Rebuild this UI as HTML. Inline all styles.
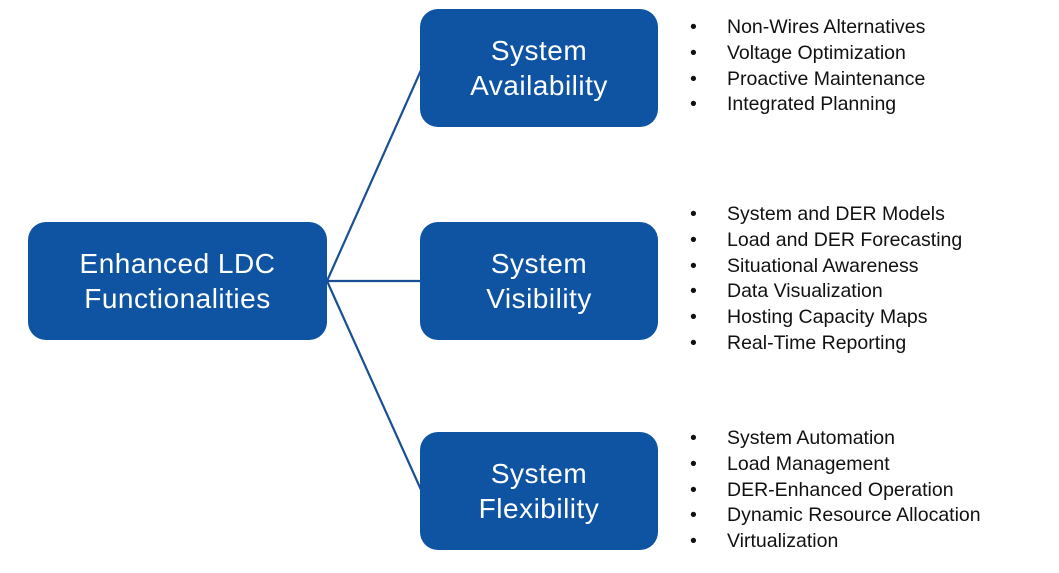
<!DOCTYPE html>
<html><head><meta charset="utf-8"><style>
body{margin:0;width:1059px;height:573px;background:#fff;position:relative;overflow:hidden;font-family:"Liberation Sans",sans-serif}
.b{position:absolute;background:#0e54a2;border-radius:18px;color:#fff;display:flex;align-items:center;justify-content:center;text-align:center;font-size:28px;line-height:35px;letter-spacing:0.5px}
.l{position:absolute;left:690px;font-size:19.5px;color:#111;line-height:25.8px;margin:0;padding:0;list-style:none}
.l li{position:relative;padding-left:37px}
.l li:before{content:"•";position:absolute;left:0}
</style></head><body>
<svg width="1059" height="573" style="position:absolute;left:0;top:0">
<g stroke="#1a4f94" stroke-width="2.2" fill="none">
<line x1="327" y1="281" x2="422" y2="68"/>
<line x1="327" y1="281" x2="422" y2="281"/>
<line x1="327" y1="281" x2="422" y2="492"/>
</g></svg>
<div class="b" style="left:28px;top:222px;width:299px;height:118px">Enhanced LDC<br>Functionalities</div>
<div class="b" style="left:420px;top:9px;width:238px;height:118px">System<br>Availability</div>
<div class="b" style="left:420px;top:222px;width:238px;height:118px">System<br>Visibility</div>
<div class="b" style="left:420px;top:432px;width:238px;height:118px">System<br>Flexibility</div>
<ul class="l" style="top:15px"><li>Non-Wires Alternatives</li><li>Voltage Optimization</li><li>Proactive Maintenance</li><li>Integrated Planning</li></ul>
<ul class="l" style="top:202px"><li>System and DER Models</li><li>Load and DER Forecasting</li><li>Situational Awareness</li><li>Data Visualization</li><li>Hosting Capacity Maps</li><li>Real-Time Reporting</li></ul>
<ul class="l" style="top:426px"><li>System Automation</li><li>Load Management</li><li>DER-Enhanced Operation</li><li>Dynamic Resource Allocation</li><li>Virtualization</li></ul>
</body></html>
